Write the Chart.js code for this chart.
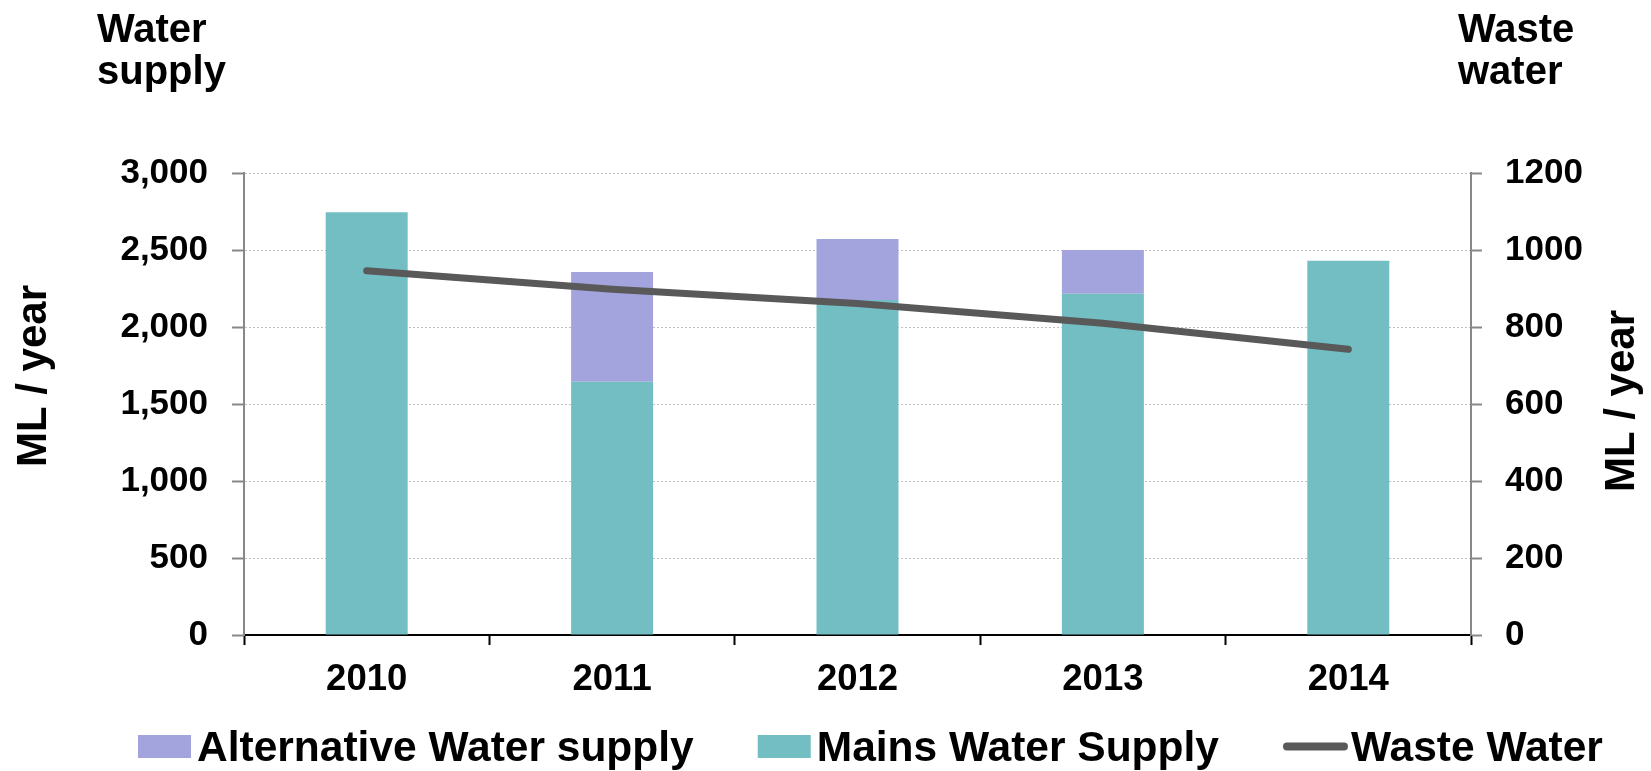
<!DOCTYPE html>
<html><head><meta charset="utf-8">
<script src="https://cdn.jsdelivr.net/npm/chart.js@4/dist/chart.umd.min.js"></script>
<style>html,body{margin:0;padding:0;background:#fff;}canvas{display:block}</style>
</head><body>
<canvas id="c" width="1651" height="771"></canvas>
<script>
// ---- data ----
const years = ['2010', '2011', '2012', '2013', '2014'];
const mainsSupply = [2745, 1645, 2175, 2216, 2431];
const altSupply = [0, 712, 396, 284, 0];
const wasteWater = [946, 898, 861, 810, 742];
const seriesNames = ['Alternative Water supply', 'Mains Water Supply', 'Waste Water'];
const leftHeading = ['Water', 'supply'];
const rightHeading = ['Waste', 'water'];
const axisTitle = 'ML / year';
const leftMax = 3000, leftStep = 500;
const rightMax = 1200, rightStep = 200;

const FONT = '"Liberation Sans", Arial, Helvetica, sans-serif';
const colAlt = '#a3a3de', colMains = '#72bec3', colLine = '#595959';

const overlay = {
  id: 'overlay',
  afterDraw(chart) {
    const ctx = chart.ctx;
    ctx.save();
    ctx.fillStyle = '#000';
    ctx.textAlign = 'left';
    ctx.textBaseline = 'alphabetic';
    ctx.font = 'bold 40px ' + FONT;
    ctx.fillText(leftHeading[0], 97, 42);
    ctx.fillText(leftHeading[1], 97, 84);
    ctx.fillText(rightHeading[0], 1458, 42);
    ctx.fillText(rightHeading[1], 1458, 84);
    // rotated axis titles
    ctx.font = 'bold 42px ' + FONT;
    ctx.textAlign = 'center';
    [[46, 376], [1634, 401]].forEach(([x, y]) => {
      ctx.save(); ctx.translate(x, y); ctx.rotate(-Math.PI / 2);
      ctx.fillText(axisTitle, 0, 0); ctx.restore();
    });
    // legend
    ctx.font = 'bold 42.5px ' + FONT;
    ctx.textAlign = 'left';
    let x = 138;
    const boxTop = 735, boxH = 23, base = 761;
    const items = [
      {label: chart.data.datasets[2].label, color: colAlt, type: 'box'},
      {label: chart.data.datasets[1].label, color: colMains, type: 'box'},
      {label: chart.data.datasets[0].label, color: colLine, type: 'line'}
    ];
    items.forEach(it => {
      if (it.type === 'box') {
        ctx.fillStyle = it.color;
        ctx.fillRect(x, boxTop, 53, boxH);
        x += 53 + 6;
      } else {
        ctx.strokeStyle = it.color; ctx.lineWidth = 8; ctx.lineCap = 'round';
        ctx.beginPath(); ctx.moveTo(x + 4, boxTop + boxH / 2); ctx.lineTo(x + 61, boxTop + boxH / 2); ctx.stroke();
        x += 65 + 3;
      }
      ctx.fillStyle = '#000';
      ctx.fillText(it.label, x, base);
      x += ctx.measureText(it.label).width + 64;
    });
    ctx.restore();
  }
};

new Chart(document.getElementById('c'), {
  type: 'bar',
  data: {
    labels: years,
    datasets: [
      {type: 'line', label: seriesNames[2], data: wasteWater, yAxisID: 'y1', borderColor: colLine,
       backgroundColor: colLine, borderWidth: 7, borderCapStyle: 'round', borderJoinStyle: 'round',
       pointRadius: 0, tension: 0, order: 0},
      {label: seriesNames[1], data: mainsSupply, backgroundColor: colMains, yAxisID: 'y', stack: 's', order: 1,
       categoryPercentage: 1, barPercentage: 0.334},
      {label: seriesNames[0], data: altSupply, backgroundColor: colAlt, yAxisID: 'y', stack: 's', order: 2,
       categoryPercentage: 1, barPercentage: 0.334}
    ]
  },
  options: {
    responsive: false, animation: false, devicePixelRatio: 1,
    layout: {padding: {top: 173, left: 0, right: 0, bottom: 0}},
    plugins: {legend: {display: false}, tooltip: {enabled: false}},
    scales: {
      x: {
        stacked: true,
        afterFit: s => { s.height = 136; },
        grid: {offset: true, drawOnChartArea: false, tickLength: 10, tickColor: '#000', tickWidth: 2},
        border: {color: '#000', width: 2},
        ticks: {color: '#000', font: {family: FONT, size: 36.5, weight: 'bold'}, padding: 13}
      },
      y: {
        stacked: true, position: 'left', min: 0, max: leftMax,
        afterFit: s => { s.width = 244; },
        ticks: {stepSize: leftStep, color: '#000', padding: 24,
          font: {family: FONT, size: 35, weight: 'bold'},
          callback: v => Number(v).toLocaleString('en-US')},
        grid: {color: '#c0c0c0', lineWidth: 1, tickLength: 12, tickColor: '#888', tickWidth: 2, tickBorderDash: []},
        border: {color: '#888', width: 2, dash: [2, 2]}
      },
      y1: {
        position: 'right', min: 0, max: rightMax,
        afterFit: s => { s.width = 180; },
        ticks: {stepSize: rightStep, color: '#000', padding: 23,
          font: {family: FONT, size: 35, weight: 'bold'},
          callback: v => String(v)},
        grid: {drawOnChartArea: false, tickLength: 11, tickColor: '#888', tickWidth: 2},
        border: {color: '#888', width: 2}
      }
    }
  },
  plugins: [overlay]
});
</script>
</body></html>
